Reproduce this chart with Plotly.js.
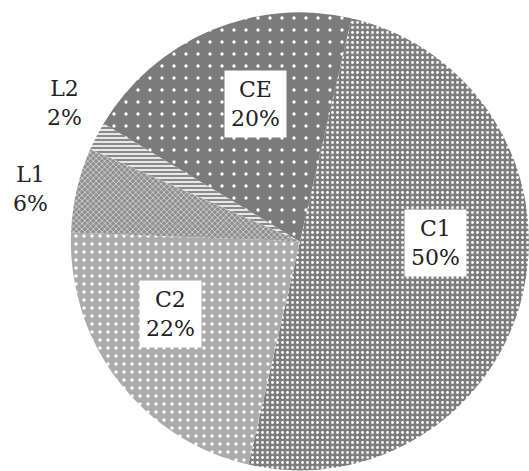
<!DOCTYPE html>
<html>
<head>
<meta charset="utf-8">
<script src="https://cdn.plot.ly/plotly-3.0.1.min.js"></script>
<style>html,body{margin:0;padding:0;background:#fff;}#chart{width:529px;height:471px;}</style>
</head>
<body>
<div id="chart"></div>
<script>
const categories = ["C1", "C2", "L1", "L2", "CE"];
const values = [50, 22, 6, 2, 20];
const percentLabels = ["50%", "22%", "6%", "2%", "20%"];
const labelInside = [true, true, false, false, true];

// label placement style (angle offset from slice middle, radius fraction)
const labelAngleOffset = [-12.5, 8, -2, 3, 5];
const labelRadius = [0.59, 0.65, 1.20, 1.19, 0.63];

const W = 529, H = 471;
const domX = [0.134, 1.0];
const domY = [0.0, 0.975];
const rotation = 13;

const total = values.reduce((a, b) => a + b, 0);
const R = Math.min(W * (domX[1] - domX[0]), H * (domY[1] - domY[0])) / 2;
const cxPx = W * (domX[0] + domX[1]) / 2;
const cyPx = H * (domY[0] + domY[1]) / 2;
let acc = 0;
const annotations = categories.map((c, i) => {
  const mid = rotation + 360 * (acc + values[i] / 2) / total + labelAngleOffset[i];
  acc += values[i];
  const a = mid * Math.PI / 180;
  const rf = labelRadius[i];
  const px = cxPx + rf * R * Math.sin(a);
  const py = cyPx + rf * R * Math.cos(a);
  const ann = {
    x: px / W, y: py / H, xref: 'paper', yref: 'paper',
    xanchor: 'center', yanchor: 'middle',
    text: c + '<br>' + percentLabels[i], showarrow: false,
    font: {family: 'DejaVu Serif', size: 22, color: '#222'},
    align: 'center'
  };
  if (labelInside[i]) { ann.bgcolor = '#ffffff'; ann.borderpad = 6; }
  return ann;
});

const trace = {
  type: 'pie',
  labels: categories,
  values: values,
  sort: false,
  direction: 'clockwise',
  rotation: rotation,
  textinfo: 'none',
  hoverinfo: 'none',
  domain: {x: domX, y: domY},
  marker: {
    colors: ['#7d7d7d', '#ababab', '#8f8f8f', '#8a8a8a', '#7b7b7b'],
    line: {width: 0},
    pattern: {
      shape: ['.', '.', 'x', '-', '.'],
      bgcolor: ['#7d7d7d', '#ababab', '#8f8f8f', '#8a8a8a', '#7b7b7b'],
      fgcolor: ['#ffffff', '#ffffff', '#ffffff', '#ffffff', '#ffffff'],
      size: [5, 8, 4, 4, 12],
      solidity: [0.25, 0.15, 0.25, 0.4, 0.06]
    }
  }
};

Plotly.newPlot('chart', [trace], {
  width: W, height: H,
  margin: {l: 0, r: 0, t: 0, b: 0},
  showlegend: false,
  paper_bgcolor: '#ffffff',
  annotations: annotations
}, {displayModeBar: false, staticPlot: true});
</script>
</body>
</html>
